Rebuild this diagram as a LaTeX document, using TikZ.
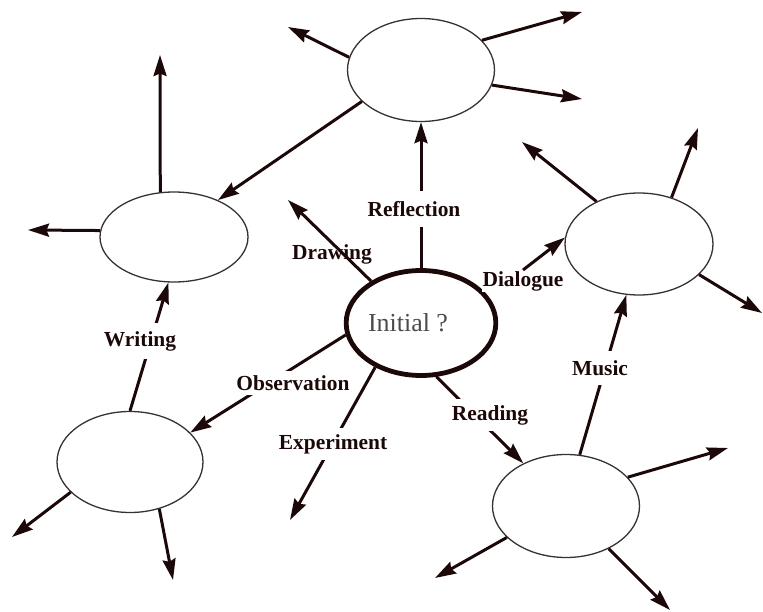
\documentclass[tikz,border=0pt]{standalone}
\usepackage{fontspec}
\setmainfont{Liberation Serif}
\usetikzlibrary{arrows.meta,shapes.geometric}
\definecolor{ink}{RGB}{28,8,8}
\definecolor{rim}{RGB}{55,50,50}
\definecolor{inittxt}{RGB}{75,75,75}
\begin{document}
\begin{tikzpicture}[x=1bp,y=-1bp,
  bub/.style={ellipse, draw=rim, line width=1.3bp, minimum width=147bp, minimum height=103bp, inner sep=0pt, fill=white},
  arr/.style={draw=ink, line width=3bp, -{Stealth[length=21bp,width=13bp,inset=2.5bp]}},
  lab/.style={text=ink, font=\bfseries\fontsize{21.5}{22}\selectfont, inner xsep=2bp, inner ysep=5bp},
  gap/.style={lab, fill=white}]
\useasboundingbox (0,0) rectangle (763,612);

% ellipses
\node[bub, draw=ink, line width=4.8bp, minimum width=146bp, minimum height=105bp, text=inittxt, font=\fontsize{26}{26}\selectfont] (c) at (421,323) {Initial ?\hspace*{26bp}};
\node[bub] (top) at (421,70) {};
\node[bub, minimum width=148bp, minimum height=90bp] (lft) at (174,237) {};
\node[bub, minimum width=148bp, minimum height=102bp] (rt) at (639,244) {};
\node[bub, minimum width=146bp, minimum height=101bp] (ll) at (130,462) {};
\node[bub] (lr) at (566,506) {};

% free arrow ends
\coordinate (tA) at (288,27);
\coordinate (tB) at (582,12);
\coordinate (tC) at (582,99);
\coordinate (tD) at (160,55);
\coordinate (tE) at (28,230);
\coordinate (tF) at (522,142);
\coordinate (tG) at (698,128);
\coordinate (tH) at (762,313);
\coordinate (tI) at (12,537);
\coordinate (tJ) at (173,580);
\coordinate (tK) at (728,448);
\coordinate (tL) at (435,578);
\coordinate (tM) at (670,610);
\coordinate (tDraw) at (288,200);
\coordinate (tExp) at (290,520);

% outgoing arrows
\draw[arr] (top.170) -- (tA);
\draw[arr] (top.26) -- (tB);
\draw[arr] (top.-12) -- (tC);
\draw[arr] (top.208) -- (lft.40);
\draw[arr] (lft.107) -- (tD);
\draw[arr] (lft.175) -- (tE);
\draw[arr] (rt.135) -- (tF);
\draw[arr] (rt.55) -- (tG);
\draw[arr] (rt.-27) -- (tH);
\draw[arr] (ll.207) -- (tI);
\draw[arr] (ll.302) -- (tJ);
\draw[arr] (lr.25) -- (tK);
\draw[arr] (lr.208) -- (tL);
\draw[arr] (lr.-45) -- (tM);

% labelled connectors
\draw[arr] (c.north) -- (top.south);
\node[gap, inner ysep=10bp] (lrefl) at (414,209) {Reflection};

\node[lab] (ldraw) at (332,254) {Drawing};
\draw[arr] (c.140) -- (tDraw);

\node[gap, inner sep=1bp] (ldia) at (523,281) {Dialogue};
\draw[arr] (ldia.north) -- (rt.175);

\draw[arr] (c.189) -- (ll.26);
\node[gap, inner ysep=4bp] (lobs) at (293,383) {Observation};

\draw[arr] (c.224) -- (tExp);
\node[gap, inner ysep=6bp] (lexp) at (333,444) {Experiment};

\draw[arr] (c.286) -- (lr.135);
\node[gap, inner ysep=6bp] (lread) at (490,415) {Reading};

\draw[arr] (lr.75) -- (rt.256);
\node[gap, inner ysep=9bp] (lmus) at (600,368) {Music};

\draw[arr] (ll.90) -- (lft.263);
\node[gap, inner ysep=8bp] (lwri) at (140,341) {Writing};
\end{tikzpicture}
\end{document}
